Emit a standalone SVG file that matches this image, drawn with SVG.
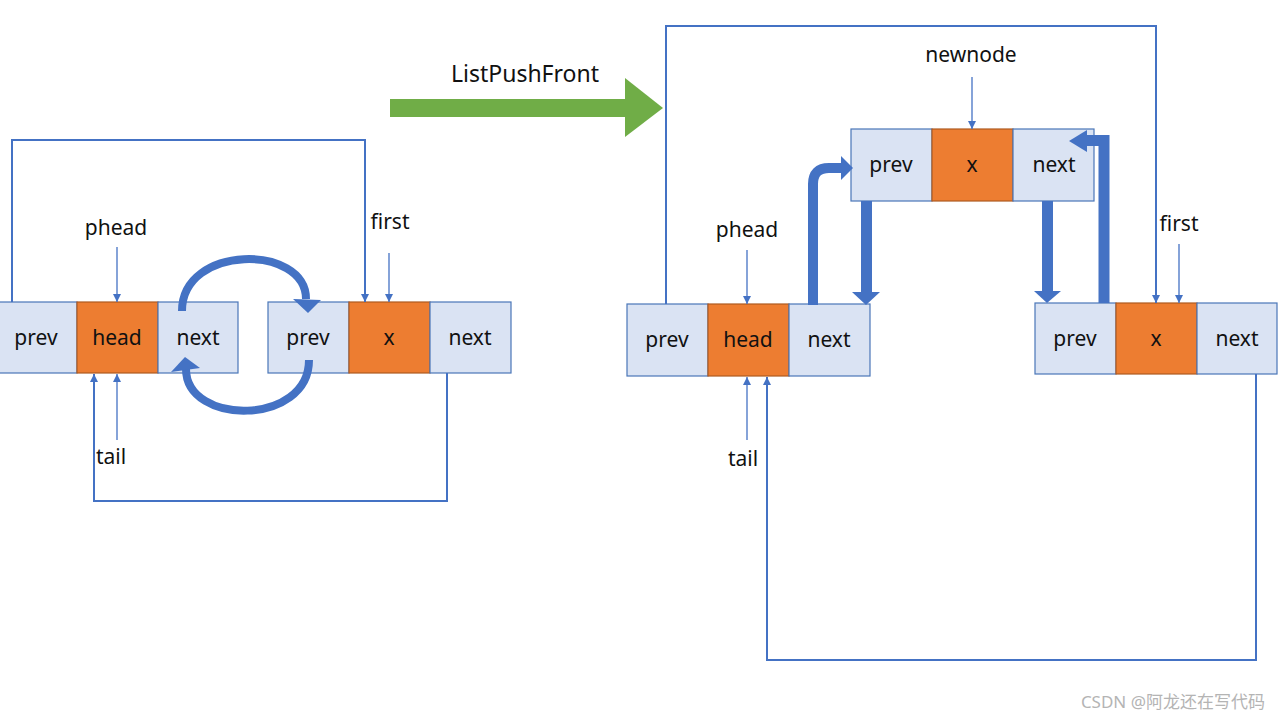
<svg xmlns="http://www.w3.org/2000/svg" width="1280" height="720" viewBox="0 0 1280 720">
<defs>
<marker id="ah" viewBox="0 0 10 10" refX="10" refY="5" markerUnits="userSpaceOnUse" markerWidth="9" markerHeight="8" orient="auto">
<path d="M0,0 L10,5 L0,10 z" fill="#4472C4"/>
</marker>
</defs>
<style>
.cell{fill:#DAE3F3;stroke:#4A76B8;stroke-width:1.2}
.data{fill:#ED7D31;stroke:#AE5A21;stroke-width:1.2}
.t{font-family:"Noto Sans","Open Sans",sans-serif;font-size:21px;fill:#111;text-anchor:middle}
.lbl{font-family:"Noto Sans","Open Sans",sans-serif;font-size:21px;fill:#111;text-anchor:middle}
.ln{fill:none;stroke:#4472C4;stroke-width:2;marker-end:url(#ah)}
.pt{fill:none;stroke:#4472C4;stroke-width:1.3;marker-end:url(#ah)}
.blk{fill:#4472C4}
.bs{fill:none;stroke:#4472C4}
</style>
<rect width="1280" height="720" fill="#fff"/>

<g id="left-head">
<rect class="cell" x="-1" y="302" width="78" height="71"/>
<rect class="data" x="77" y="302" width="81" height="71"/>
<rect class="cell" x="158" y="302" width="80" height="71"/>
<text class="t" x="36" y="345">prev</text>
<text class="t" x="117" y="345">head</text>
<text class="t" x="198" y="345">next</text>
</g>
<g id="left-first">
<rect class="cell" x="268" y="302" width="81" height="71"/>
<rect class="data" x="349" y="302" width="81" height="71"/>
<rect class="cell" x="430" y="302" width="81" height="71"/>
<text class="t" x="308" y="345">prev</text>
<text class="t" x="389" y="345">x</text>
<text class="t" x="470" y="345">next</text>
</g>
<g id="left-labels">
<text class="lbl" x="116" y="235">phead</text>
<text class="lbl" x="390" y="229">first</text>
<text class="lbl" x="111" y="464">tail</text>
</g>

<g id="op">
<rect x="390" y="99" width="236" height="18" fill="#70AD47"/>
<polygon points="625,78 625,137 663,108" fill="#70AD47"/>
<text x="525" y="82" font-family="Noto Sans, Open Sans, sans-serif" font-size="23" fill="#111" text-anchor="middle">ListPushFront</text>
</g>

<g id="right-head">
<rect class="cell" x="627" y="304" width="81" height="72"/>
<rect class="data" x="708" y="304" width="81" height="72"/>
<rect class="cell" x="789" y="304" width="81" height="72"/>
<text class="t" x="667" y="347">prev</text>
<text class="t" x="748" y="347">head</text>
<text class="t" x="829" y="347">next</text>
</g>
<g id="right-newnode">
<rect class="cell" x="851" y="129" width="81" height="72"/>
<rect class="data" x="932" y="129" width="81" height="72"/>
<rect class="cell" x="1013" y="129" width="81" height="72"/>
<text class="t" x="891" y="172">prev</text>
<text class="t" x="972" y="172">x</text>
<text class="t" x="1054" y="172">next</text>
</g>
<g id="right-first">
<rect class="cell" x="1035" y="303" width="81" height="71"/>
<rect class="data" x="1116" y="303" width="81" height="71"/>
<rect class="cell" x="1197" y="303" width="80" height="71"/>
<text class="t" x="1075" y="346">prev</text>
<text class="t" x="1156" y="346">x</text>
<text class="t" x="1237" y="346">next</text>
</g>
<g id="right-labels">
<text class="lbl" x="971" y="62">newnode</text>
<text class="lbl" x="747" y="237">phead</text>
<text class="lbl" x="1179" y="231">first</text>
<text class="lbl" x="743" y="466">tail</text>
</g>

<g id="connectors">
<!-- left diagram -->
<path class="ln" d="M12,302 V140 H365 V302"/>
<path class="ln" d="M447,373 V501 H94 V374"/>
<path class="pt" d="M117,247 V302"/>
<path class="pt" d="M389,253 V302"/>
<path class="pt" d="M117,440 V374"/>
<path class="bs" stroke-width="8" d="M182,311 C182,244 306,244 306,299"/>
<polygon class="blk" points="293,299 321,300 308,313"/>
<path class="bs" stroke-width="8" d="M309,360 C309,426 186,426 186,369"/>
<polygon class="blk" points="171,372 200,368 185,357"/>
<!-- right diagram -->
<path class="ln" d="M666,304 V26 H1156 V303"/>
<path class="ln" d="M1256,374 V660 H767 V377"/>
<path class="pt" d="M972,77 V129"/>
<path class="pt" d="M747,250 V304"/>
<path class="pt" d="M1179,244 V303"/>
<path class="pt" d="M747,440 V377"/>
<path class="bs" stroke-width="10" d="M813,305 V184 Q813,168 829,168 H842"/>
<polygon class="blk" points="841,156 841,180 853,168"/>
<rect class="blk" x="861" y="201" width="11" height="92"/>
<polygon class="blk" points="852,292 880,292 866,305"/>
<rect class="blk" x="1042" y="201" width="11" height="91"/>
<polygon class="blk" points="1034,291 1061,291 1047,303"/>
<path class="bs" stroke-width="11" stroke-linejoin="miter" d="M1104,303 V140.5 H1086"/>
<polygon class="blk" points="1087,130 1087,152 1069,141"/>
</g>
<text x="1265" y="708" font-family="Noto Sans, Noto Sans CJK SC, sans-serif" font-size="17" fill="#b4b4b4" text-anchor="end">CSDN @阿龙还在写代码</text>
</svg>
